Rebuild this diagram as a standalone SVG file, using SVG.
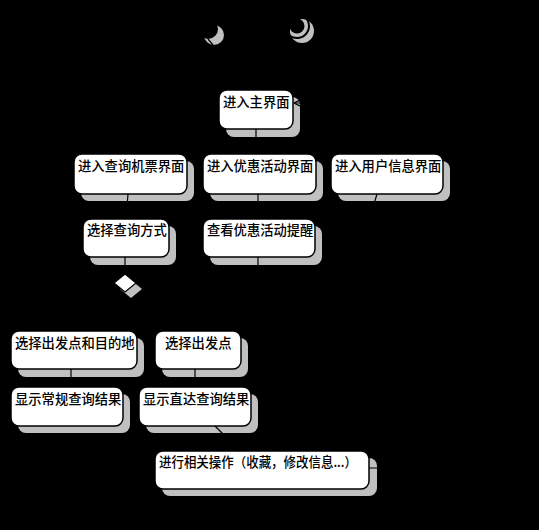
<svg xmlns="http://www.w3.org/2000/svg" width="539" height="530" viewBox="0 0 539 530">
<defs>
<style>
.bg{fill:#000}
.sh{fill:#c0c0c0}
.box{fill:#fff;stroke:#000;stroke-width:1.5}
.t{font-family:"Noto Sans CJK SC","Microsoft YaHei",sans-serif;font-size:13.3px;font-weight:500;fill:#000}
.c{fill:none;stroke:#000;stroke-width:1.2}
</style>
<marker id="ah" viewBox="0 0 10 10" refX="10" refY="5" markerWidth="8" markerHeight="8" orient="auto-start-reverse" markerUnits="userSpaceOnUse">
<path d="M0,0 L10,5 L0,10" fill="none" stroke="#000" stroke-width="1.5"/>
</marker>
</defs>
<rect class="bg" x="0" y="0" width="539" height="530"/>

<g id="start">
<circle class="sh" cx="214" cy="35" r="10"/>
<circle cx="208" cy="29" r="10" fill="#000"/>
</g>
<g id="end">
<circle class="sh" cx="302" cy="31" r="12"/>
<circle cx="297" cy="26" r="12" fill="none" stroke="#000" stroke-width="2"/>
<circle cx="297" cy="26" r="7.5" fill="#000"/>
</g>

<g id="n_main">
<rect class="sh" x="226" y="97" width="74" height="40" rx="8"/>
<rect class="box" x="219" y="90" width="74" height="39" rx="8"/>
<text class="t" x="223" y="107">进入主界面</text>
</g>
<g id="n_query">
<rect class="sh" x="81" y="161" width="113" height="40" rx="8"/>
<rect class="box" x="74" y="154" width="113" height="40" rx="8"/>
<text class="t" x="78" y="171">进入查询机票界面</text>
</g>
<g id="n_promo">
<rect class="sh" x="210" y="161" width="113" height="40" rx="8"/>
<rect class="box" x="203" y="154" width="113" height="40" rx="8"/>
<text class="t" x="207" y="171">进入优惠活动界面</text>
</g>
<g id="n_user">
<rect class="sh" x="338" y="161" width="112" height="40" rx="8"/>
<rect class="box" x="331" y="154" width="112" height="40" rx="8"/>
<text class="t" x="335" y="171">进入用户信息界面</text>
</g>
<g id="n_choose">
<rect class="sh" x="90" y="226" width="86" height="39" rx="8"/>
<rect class="box" x="83" y="219" width="86" height="38" rx="8"/>
<text class="t" x="87" y="235">选择查询方式</text>
</g>
<g id="n_remind">
<rect class="sh" x="210" y="226" width="112" height="39" rx="8"/>
<rect class="box" x="203" y="219" width="112" height="38" rx="8"/>
<text class="t" x="207" y="235">查看优惠活动提醒</text>
</g>
<g id="n_decision">
<polygon class="sh" points="131,280 142,289 131,298 120,289"/>
<polygon points="125,274 136,283 125,292 114,283" fill="#fff" stroke="#000" stroke-width="1.2"/>
</g>
<g id="n_both">
<rect class="sh" x="18" y="338" width="126" height="39" rx="8"/>
<rect class="box" x="11" y="331" width="126" height="38" rx="8"/>
<text class="t" x="15" y="348">选择出发点和目的地</text>
</g>
<g id="n_from">
<rect class="sh" x="162" y="338" width="86" height="39" rx="8"/>
<rect class="box" x="155" y="331" width="86" height="38" rx="8"/>
<text class="t" x="165" y="348">选择出发点</text>
</g>
<g id="n_regular">
<rect class="sh" x="18" y="394" width="112" height="39" rx="8"/>
<rect class="box" x="11" y="387" width="112" height="39" rx="8"/>
<text class="t" x="15" y="404">显示常规查询结果</text>
</g>
<g id="n_direct">
<rect class="sh" x="146" y="394" width="112" height="39" rx="8"/>
<rect class="box" x="139" y="387" width="112" height="39" rx="8"/>
<text class="t" x="143" y="404">显示直达查询结果</text>
</g>
<g id="n_ops">
<rect class="sh" x="162" y="458" width="215" height="38" rx="8"/>
<rect class="box" x="155" y="451" width="214" height="38" rx="8"/>
<text class="t" x="159" y="467" textLength="198" lengthAdjust="spacingAndGlyphs">进行相关操作（收藏，修改信息...）</text>
</g>

<g id="connectors">
<line class="c" x1="208" y1="39" x2="250" y2="90" marker-end="url(#ah)"/>
<path class="c" d="M256,129 V142 M130,142 H376 M128,142 V154 M258,142 V154 M376,142 V154"/>
<line class="c" x1="128" y1="194" x2="126" y2="219" marker-end="url(#ah)"/>
<line class="c" x1="258" y1="194" x2="258" y2="219" marker-end="url(#ah)"/>
<line class="c" x1="377" y1="194" x2="300" y2="451" marker-end="url(#ah)"/>
<line class="c" x1="125" y1="257" x2="125" y2="274" marker-end="url(#ah)"/>
<path class="c" d="M114,283 H72 V331" marker-end="url(#ah)"/>
<path class="c" d="M136,283 H196 V331" marker-end="url(#ah)"/>
<line class="c" x1="71" y1="369" x2="71" y2="387" marker-end="url(#ah)"/>
<line class="c" x1="195" y1="369" x2="195" y2="387" marker-end="url(#ah)"/>
<line class="c" x1="215" y1="426" x2="240" y2="451" marker-end="url(#ah)"/>
<line class="c" x1="258" y1="257" x2="258" y2="300"/>
<path class="c" d="M369,468 H475 V103 H294" marker-end="url(#ah)"/>
</g>
</svg>
